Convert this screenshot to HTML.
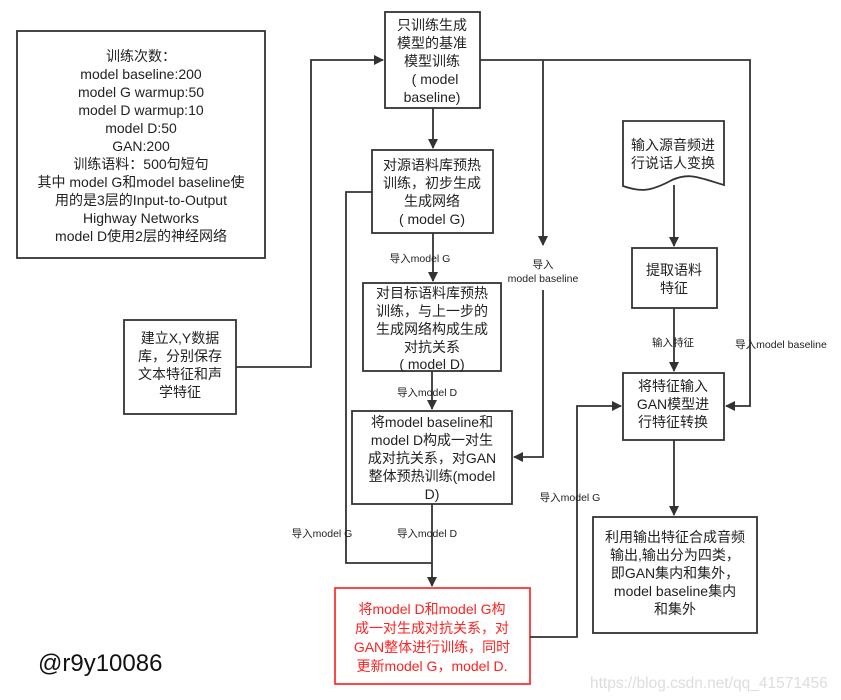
<!DOCTYPE html>
<html><head><meta charset="utf-8"><style>
html,body{margin:0;padding:0;background:#fff;}
svg{display:block;}
text{font-family:"Liberation Sans","Noto Sans CJK SC",sans-serif;fill:#222;}
.t{font-size:14px;text-anchor:middle;}
.l{font-size:10.5px;text-anchor:middle;fill:#333;}
</style></head><body>
<svg width="841" height="700" viewBox="0 0 841 700" xmlns="http://www.w3.org/2000/svg">
<defs><marker id="a" markerWidth="10" markerHeight="10" refX="9" refY="5" orient="auto" markerUnits="userSpaceOnUse"><path d="M0,0 L10,5 L0,10 z" fill="#333"/></marker></defs>
<g fill="none" stroke="#333" stroke-width="1.8">
<rect x="17" y="31" width="248" height="227"/>
<rect x="385" y="12" width="95" height="96"/>
<rect x="372" y="150" width="121" height="83"/>
<rect x="363" y="283" width="138" height="88"/>
<rect x="352" y="411" width="160" height="93"/>
<rect x="124" y="320" width="112" height="94"/>
<rect x="632" y="248" width="85" height="60"/>
<rect x="623" y="373" width="101" height="67"/>
<rect x="593" y="517" width="164" height="116"/>
<path d="M623,121 L724,121 L724,185 C700,178 690,172 672,180 C650,192 640,192 623,186 Z"/>
<rect x="335" y="588" width="195" height="96" stroke="#f33"/>
<path d="M236,367 H311 V60 H383" marker-end="url(#a)"/>
<path d="M433,108 V148" marker-end="url(#a)"/>
<path d="M433,233 V281" marker-end="url(#a)"/>
<path d="M432,371 V409" marker-end="url(#a)"/>
<path d="M432,504 V586" marker-end="url(#a)"/>
<path d="M372,192 H346 V563 H432"/>
<path d="M480,60 H750 V406 H726" marker-end="url(#a)"/>
<path d="M543,60 V245" marker-end="url(#a)"/>
<path d="M543,290 V457 H514" marker-end="url(#a)"/>
<path d="M674,185 V246" marker-end="url(#a)"/>
<path d="M674,308 V371" marker-end="url(#a)"/>
<path d="M674,440 V515" marker-end="url(#a)"/>
<path d="M530,637 H577 V406 H621" marker-end="url(#a)"/>
</g>
<g class="t">
<text x="141" y="61">训练次数：</text>
<text x="141" y="79">model baseline:200</text>
<text x="141" y="97">model G warmup:50</text>
<text x="141" y="115">model D warmup:10</text>
<text x="141" y="133">model D:50</text>
<text x="141" y="151">GAN:200</text>
<text x="141" y="169">训练语料：500句短句</text>
<text x="141" y="187">其中 model G和model baseline使</text>
<text x="141" y="205">用的是3层的Input-to-Output</text>
<text x="141" y="223">Highway Networks</text>
<text x="141" y="241">model D使用2层的神经网络</text>

<text x="432" y="30">只训练生成</text>
<text x="432" y="48">模型的基准</text>
<text x="432" y="66">模型训练</text>
<text x="435" y="84">( model</text>
<text x="432" y="102">baseline)</text>

<text x="432" y="170">对源语料库预热</text>
<text x="432" y="188">训练，初步生成</text>
<text x="432" y="206">生成网络</text>
<text x="432" y="224">( model G)</text>

<text x="432" y="298">对目标语料库预热</text>
<text x="432" y="316">训练，与上一步的</text>
<text x="432" y="334">生成网络构成生成</text>
<text x="432" y="352">对抗关系</text>
<text x="432" y="369">( model D)</text>

<text x="432" y="427">将model baseline和</text>
<text x="432" y="445">model D构成一对生</text>
<text x="432" y="463">成对抗关系，对GAN</text>
<text x="432" y="481">整体预热训练(model</text>
<text x="432" y="499">D)</text>

<text x="180" y="343">建立X,Y数据</text>
<text x="180" y="361">库，分别保存</text>
<text x="180" y="379">文本特征和声</text>
<text x="180" y="397">学特征</text>

<text x="673" y="150">输入源音频进</text>
<text x="673" y="168">行说话人变换</text>
<text x="674" y="275">提取语料</text>
<text x="674" y="293">特征</text>
<text x="673" y="391">将特征输入</text>
<text x="673" y="409">GAN模型进</text>
<text x="673" y="427">行特征转换</text>
<text x="675" y="542">利用输出特征合成音频</text>
<text x="675" y="560">输出,输出分为四类，</text>
<text x="675" y="578">即GAN集内和集外，</text>
<text x="675" y="596">model baseline集内</text>
<text x="675" y="614">和集外</text>

<text x="432" y="614" style="fill:#f22">将model D和model G构</text>
<text x="432" y="633" style="fill:#f22">成一对生成对抗关系，对</text>
<text x="432" y="652" style="fill:#f22">GAN整体进行训练，同时</text>
<text x="432" y="671" style="fill:#f22">更新model G，model D.</text>
</g>
<g class="l">
<text x="420" y="262">导入model G</text>
<text x="427" y="396">导入model D</text>
<text x="543" y="268">导入</text>
<text x="543" y="282">model baseline</text>
<text x="673" y="346">输入特征</text>
<text x="781" y="348">导入model baseline</text>
<text x="570" y="501">导入model G</text>
<text x="322" y="537">导入model G</text>
<text x="427" y="537">导入model D</text>
</g>
<text x="38" y="671" style="font-size:24px;fill:#111">@r9y10086</text>
<text x="590" y="688" style="font-size:15.5px;fill:#ddd">https://blog.csdn.net/qq_41571456</text>
</svg>
</body></html>
